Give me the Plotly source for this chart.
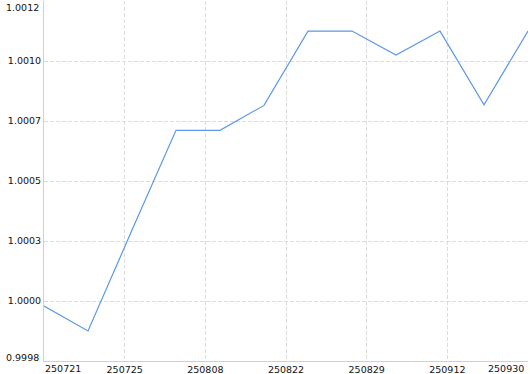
import plotly.graph_objects as go

dates = ["250721", "250722", "250725", "250801", "250808", "250815",
         "250822", "250829", "250905", "250912", "250919", "250930"]
values = [1.000014, 0.999917, 1.000309, 1.000697, 1.000697, 1.000794,
          1.001083, 1.001083, 1.000990, 1.001083, 1.000796, 1.001083]
x_tick_labels = ["250721", "250725", "250808", "250822", "250829", "250912", "250930"]
y_tick_labels = ["0.9998", "1.0000", "1.0003", "1.0005", "1.0007", "1.0010", "1.0012"]

y_min, y_max = 0.9998, 1.0012
n = len(dates)
xs = list(range(n))
nx = len(x_tick_labels) - 1
x_tickvals = [(n - 1) * i / nx for i in range(nx + 1)]
ny = len(y_tick_labels) - 1
y_tickvals = [y_min + (y_max - y_min) * i / ny for i in range(ny + 1)]

FONT = "DejaVu Sans"
FS = 9.5
TXT = "#111111"
GRID = "#dcdcdc"

fig = go.Figure()
fig.add_trace(go.Scatter(
    x=xs, y=values, mode="lines",
    line=dict(color="#5b97ea", width=1.2),
    customdata=dates, hovertemplate="%{customdata}: %{y:.6f}<extra></extra>",
))

fig.update_layout(
    width=530, height=374,
    margin=dict(l=44, r=2, t=1, b=13),
    paper_bgcolor="white", plot_bgcolor="white",
    showlegend=False,
    font=dict(family=FONT, size=FS, color=TXT),
)
fig.update_xaxes(
    range=[0, n - 1], automargin=False,
    tickmode="array", tickvals=x_tickvals,
    ticktext=[""] + x_tick_labels[1:-1] + [""],
    showgrid=True, gridcolor=GRID, griddash="4px,2px", gridwidth=1,
    showline=True, linecolor="#d0d0d0", linewidth=1,
    zeroline=False, ticks="", ticklen=0,
    tickfont=dict(family=FONT, size=FS, color=TXT),
)
fig.update_yaxes(
    range=[y_min, y_max], automargin=False,
    tickmode="array", tickvals=y_tickvals,
    ticktext=[""] + y_tick_labels[1:-1] + [""],
    showgrid=True, gridcolor=GRID, griddash="4px,2px", gridwidth=1,
    showline=True, linecolor="#d0d0d0", linewidth=1,
    zeroline=False, ticks="", ticklen=0,
    tickfont=dict(family=FONT, size=FS, color=TXT),
)

ann = dict(showarrow=False, font=dict(family=FONT, size=FS, color=TXT), borderpad=0)
fig.add_annotation(x=xs[0], y=0, xref="x", yref="paper", xanchor="left", yanchor="top",
                   text=x_tick_labels[0], yshift=-1, **ann)
fig.add_annotation(x=xs[-1], y=0, xref="x", yref="paper", xanchor="right", yanchor="top",
                   text=x_tick_labels[-1], xshift=-3, yshift=-1, **ann)
fig.add_annotation(x=0, y=y_tickvals[0], xref="paper", yref="y", xanchor="right", yanchor="bottom",
                   text=y_tick_labels[0], xshift=-4, yshift=-3, **ann)
fig.add_annotation(x=0, y=y_tickvals[-1], xref="paper", yref="y", xanchor="right", yanchor="top",
                   text=y_tick_labels[-1], xshift=-4, **ann)

fig.write_html("out.html")
